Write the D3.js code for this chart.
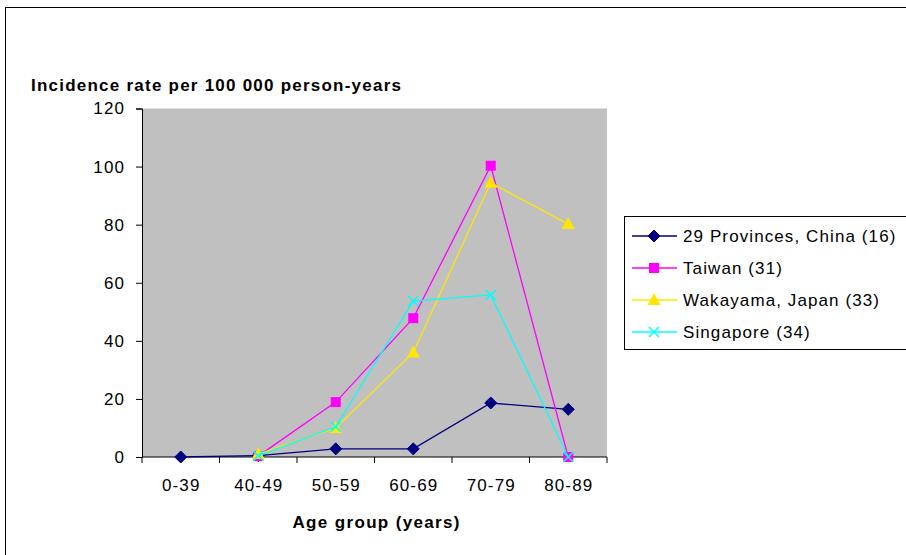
<!DOCTYPE html>
<html><head><meta charset="utf-8">
<script src="https://cdn.jsdelivr.net/npm/d3@7"></script>
<style>body{margin:0;background:#fff}svg{display:block;font-family:"Liberation Sans",Arial,sans-serif}svg text{letter-spacing:1.1px}</style>
</head><body>
<script>
const categories = ["0-39","40-49","50-59","60-69","70-79","80-89"];
const china    = [0, 0.5, 2.8, 2.8, 18.6, 16.4];
const taiwan   = [null, 0.3, 18.9, 47.8, 100.3, 0];
const wakayama = [null, 1, 10, 36, 94.4, 80.2];
const singapore= [null, 0.4, 10.4, 53.7, 55.8, 0];
const yTicks = [0,20,40,60,80,100,120];
const seriesNames = ["29 Provinces, China (16)","Taiwan (31)","Wakayama, Japan (33)","Singapore (34)"];
const seriesColors = ["#000080","#FF00FF","#FFE600","#00FFFF"];
const seriesShapes = ["diamond","square","triangle","cross"];
const seriesData = [china, taiwan, wakayama, singapore];

const W=906,H=555;
const svg=d3.select("body").append("svg").attr("width",W).attr("height",H);
svg.append("rect").attr("x",5.5).attr("y",7.5).attr("width",W+20).attr("height",H+20).attr("fill","#fff").attr("stroke","#000").attr("stroke-width",1);

const L=142,R=607,T=108.5,B=457;
const x=d3.scaleBand().domain(categories).range([L,R]);
const y=d3.scaleLinear().domain([0,120]).range([B,T]);

svg.append("rect").attr("x",L).attr("y",T).attr("width",R-L).attr("height",B-T).attr("fill","#C0C0C0");

// y axis
const ya=svg.append("g").attr("transform",`translate(${L},0)`).call(d3.axisLeft(y).tickValues(yTicks).tickSize(6).tickPadding(11));
ya.selectAll("text").attr("font-size",17).attr("fill","#000").attr("font-family","Liberation Sans, Arial, sans-serif");
ya.select(".domain").attr("stroke","#000");
ya.selectAll("line").attr("stroke","#000");
// x axis
const xa=svg.append("g").attr("transform",`translate(0,${B})`).call(d3.axisBottom(x).tickSize(0).tickPadding(22));
xa.select(".domain").attr("stroke","#000").attr("d",`M${L},0H${R}`);
xa.selectAll("text").attr("font-size",17).attr("fill","#000").attr("font-family","Liberation Sans, Arial, sans-serif").attr("dx",0.5);
const bounds=categories.map(c=>x(c)).concat([R]);
svg.append("g").selectAll("line").data(bounds).join("line")
  .attr("x1",d=>d).attr("x2",d=>d).attr("y1",B).attr("y2",B+6).attr("stroke","#000");

// titles
svg.append("text").attr("x",31).attr("y",91).attr("font-size",17).attr("font-weight","bold")
  .attr("textLength",370).attr("lengthAdjust","spacing").style("letter-spacing","0px").text("Incidence rate per 100 000 person-years");
svg.append("text").attr("x",292.5).attr("y",528).attr("font-size",17).attr("font-weight","bold")
  .attr("textLength",167).attr("lengthAdjust","spacing").style("letter-spacing","0px").text("Age group (years)");

function marker(g,shape,color,cx,cy){
  if(shape==="diamond"){
    g.append("path").attr("d",`M${cx},${cy-6}L${cx+6},${cy}L${cx},${cy+6}L${cx-6},${cy}Z`).attr("fill",color).attr("stroke",color);
  } else if(shape==="square"){
    g.append("rect").attr("x",cx-5).attr("y",cy-5).attr("width",10).attr("height",10).attr("fill",color);
  } else if(shape==="triangle"){
    g.append("path").attr("d",`M${cx},${cy-7}L${cx+6.5},${cy+5}L${cx-6.5},${cy+5}Z`).attr("fill",color);
  } else {
    g.append("path").attr("d",`M${cx-5},${cy-5}L${cx+5},${cy+5}M${cx+5},${cy-5}L${cx-5},${cy+5}`).attr("stroke",color).attr("stroke-width",1.5).attr("fill","none");
  }
}

const cx=c=>x(c)+x.bandwidth()/2;
seriesData.forEach((vals,i)=>{
  const pts=categories.map((c,j)=>({c,v:vals[j]})).filter(d=>d.v!==null);
  const g=svg.append("g");
  g.append("path").datum(pts).attr("fill","none").attr("stroke",seriesColors[i]).attr("stroke-width",1.3)
    .attr("d",d3.line().x(d=>cx(d.c)).y(d=>y(d.v)));
  pts.forEach(d=>marker(g,seriesShapes[i],seriesColors[i],cx(d.c),y(d.v)));
});

// legend
const lg=svg.append("g");
lg.append("rect").attr("x",624.5).attr("y",216.5).attr("width",320).attr("height",133).attr("fill","#fff").attr("stroke","#000");
seriesNames.forEach((n,i)=>{
  const yy=236+i*32;
  lg.append("line").attr("x1",632).attr("x2",677).attr("y1",yy).attr("y2",yy).attr("stroke",seriesColors[i]).attr("stroke-width",1.3);
  marker(lg,seriesShapes[i],seriesColors[i],654,yy);
  lg.append("text").attr("x",683).attr("y",yy+6).attr("font-size",17).text(n);
});
</script>
</body></html>
